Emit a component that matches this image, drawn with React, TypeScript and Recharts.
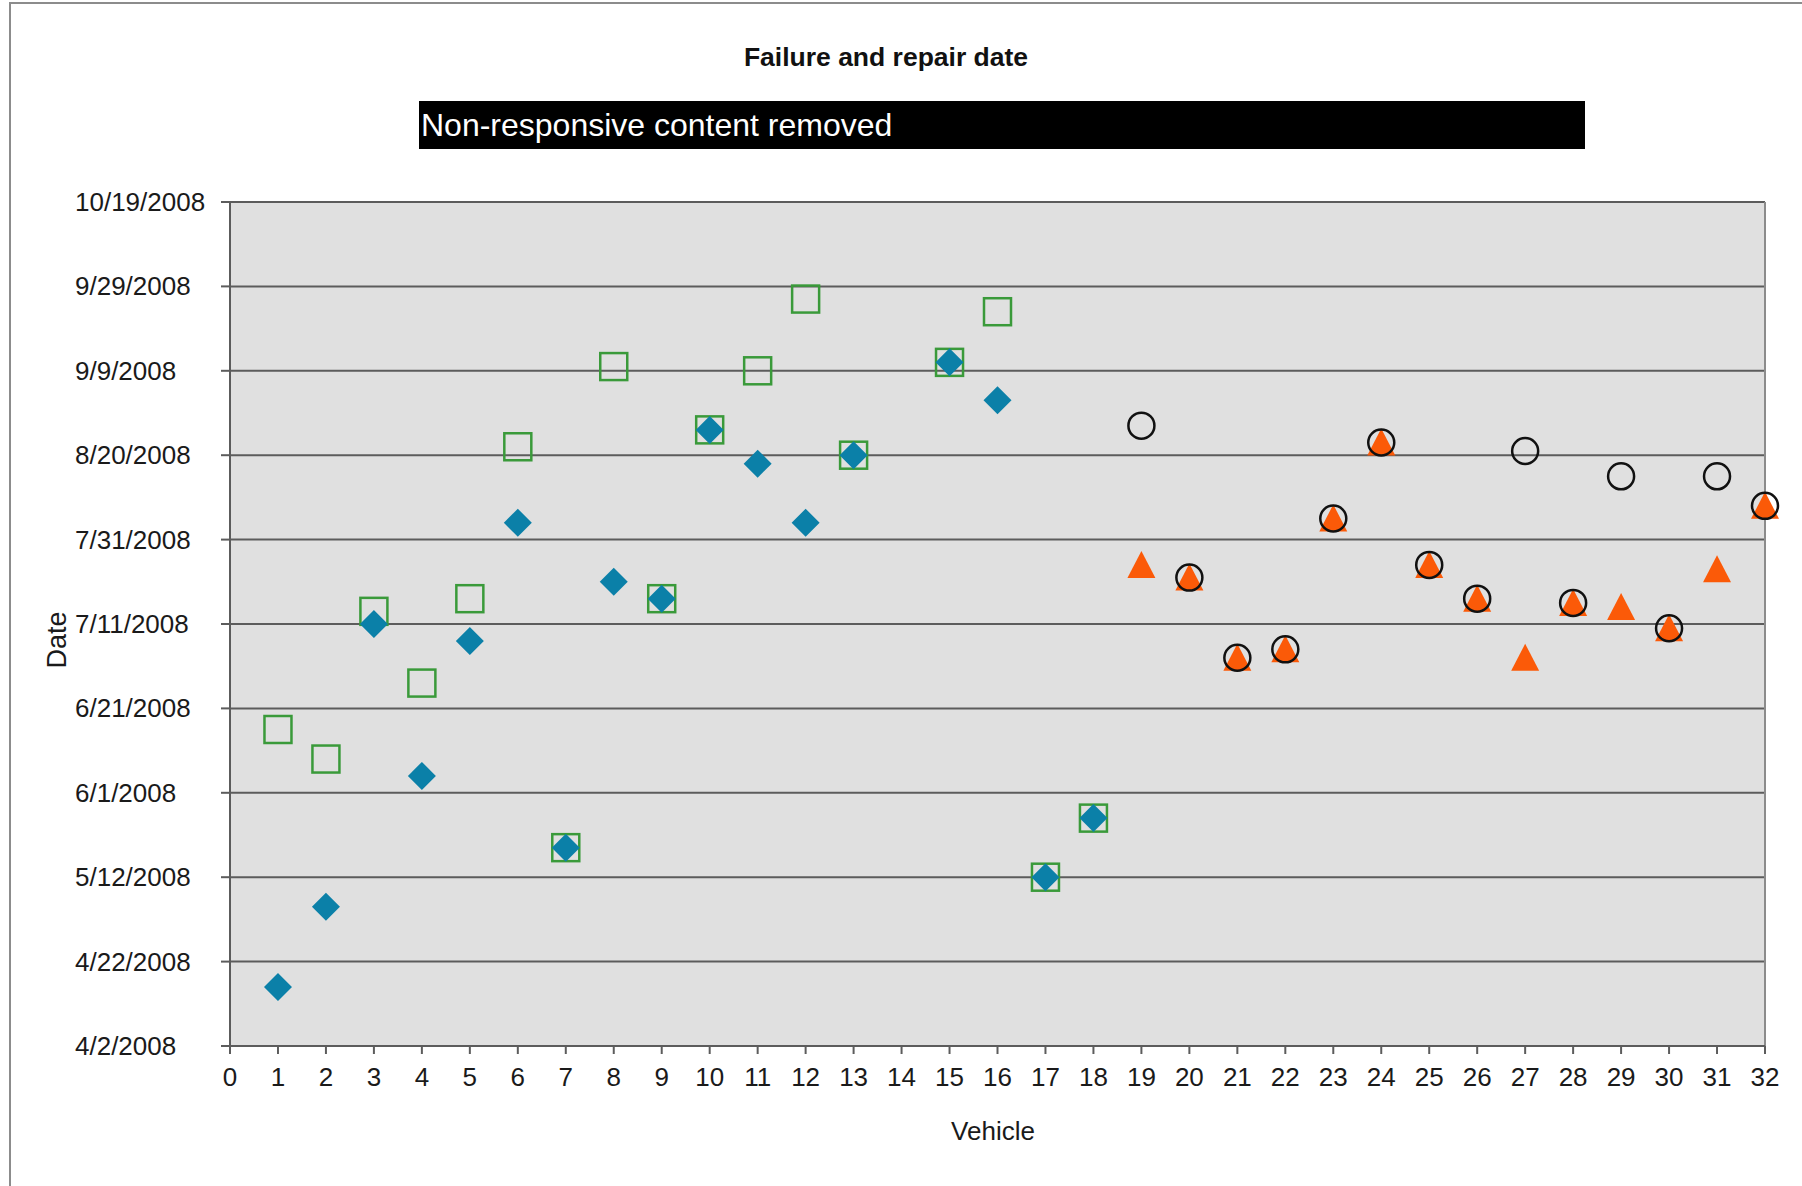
import React from 'react';
import { ScatterChart, Scatter, XAxis, YAxis, CartesianGrid, ReferenceLine } from 'recharts';

// Vehicles 1-18 (no record for 14): blue = failure, green = repair
const firstVehicles = [1, 2, 3, 4, 5, 6, 7, 8, 9, 10, 11, 12, 13, 15, 16, 17, 18];
const firstFailureDates = [
  '2008-04-16', '2008-05-05', '2008-07-11', '2008-06-05', '2008-07-07', '2008-08-04',
  '2008-05-19', '2008-07-21', '2008-07-17', '2008-08-26', '2008-08-18', '2008-08-04',
  '2008-08-20', '2008-09-11', '2008-09-02', '2008-05-12', '2008-05-26',
];
const firstRepairDates = [
  '2008-06-16', '2008-06-09', '2008-07-14', '2008-06-27', '2008-07-17', '2008-08-22',
  '2008-05-19', '2008-09-10', '2008-07-17', '2008-08-26', '2008-09-09', '2008-09-26',
  '2008-08-20', '2008-09-11', '2008-09-23', '2008-05-12', '2008-05-26',
];

// Vehicles 19-32: orange = failure, black circle = repair
const secondVehicles = [19, 20, 21, 22, 23, 24, 25, 26, 27, 28, 29, 30, 31, 32];
const secondFailureDates = [
  '2008-07-25', '2008-07-22', '2008-07-03', '2008-07-05', '2008-08-05', '2008-08-23', '2008-07-25',
  '2008-07-17', '2008-07-03', '2008-07-16', '2008-07-15', '2008-07-10', '2008-07-24', '2008-08-08',
];
const secondRepairDates = [
  '2008-08-27', '2008-07-22', '2008-07-03', '2008-07-05', '2008-08-05', '2008-08-23', '2008-07-25',
  '2008-07-17', '2008-08-21', '2008-07-16', '2008-08-15', '2008-07-10', '2008-08-15', '2008-08-08',
];

const dateTickLabels = [
  '2008-04-02', '2008-04-22', '2008-05-12', '2008-06-01', '2008-06-21', '2008-07-11',
  '2008-07-31', '2008-08-20', '2008-09-09', '2008-09-29', '2008-10-19',
];
const vehicleTicks = Array.from({ length: 33 }, (_, i) => i);

const toTime = (s: string) => Date.parse(s);
const fmtDate = (t: number) => {
  const d = new Date(t);
  return `${d.getUTCMonth() + 1}/${d.getUTCDate()}/${d.getUTCFullYear()}`;
};

const toPoints = (vehicles: number[], dates: string[]) =>
  vehicles.map((v, i) => ({ vehicle: v, date: toTime(dates[i]) }));

const dateTicks = dateTickLabels.map(toTime);

const FONT = '"Liberation Sans", Arial, Helvetica, sans-serif';
const GRID = '#5c5c5c';

const Diamond = ({ cx, cy }: any) => (
  <polygon points={`${cx},${cy - 14} ${cx + 14},${cy} ${cx},${cy + 14} ${cx - 14},${cy}`} fill="#0b80a8" />
);
const Square = ({ cx, cy }: any) => (
  <rect x={cx - 13.5} y={cy - 13.5} width={27} height={27} fill="none" stroke="#3a9a3a" strokeWidth={2.5} />
);
const Triangle = ({ cx, cy }: any) => (
  <polygon points={`${cx},${cy - 14} ${cx + 14},${cy + 13} ${cx - 14},${cy + 13}`} fill="#fb5a08" />
);
const Ring = ({ cx, cy }: any) => (
  <circle cx={cx} cy={cy} r={13} fill="none" stroke="#111" strokeWidth={2.5} />
);

const DateTick = ({ y, payload }: any) => (
  <text x={75} y={y} textAnchor="start" dominantBaseline="central" fontSize={26} fill="#1a1a1a" fontFamily={FONT}>
    {fmtDate(payload.value)}
  </text>
);

export default function App() {
  return (
    <div style={{ position: 'absolute', left: 0, top: 0, width: 1802, height: 1186, background: '#fff', fontFamily: FONT, overflow: 'hidden' }}>
      <div style={{ position: 'absolute', left: 9, top: 2, width: 1900, height: 1300, borderLeft: '2px solid #8c8c8c', borderTop: '2px solid #8c8c8c' }} />
      <ScatterChart width={1802} height={1186} margin={{ top: 202, right: 37, bottom: 0, left: 0 }}>
        <CartesianGrid vertical={false} fill="#e0e0e0" stroke={GRID} strokeWidth={2} />
        <XAxis
          type="number"
          dataKey="vehicle"
          domain={[0, 32]}
          ticks={vehicleTicks}
          interval={0}
          height={140}
          stroke={GRID}
          strokeWidth={2}
          tickSize={8}
          tickMargin={14}
          tick={{ fontSize: 26, fill: '#1a1a1a', fontFamily: FONT }}
        />
        <YAxis
          type="number"
          dataKey="date"
          domain={[dateTicks[0], dateTicks[dateTicks.length - 1]]}
          ticks={dateTicks}
          interval={0}
          width={230}
          stroke={GRID}
          strokeWidth={2}
          tickSize={9}
          tick={<DateTick />}
        />
        <ReferenceLine x={32} stroke="#8c8c8c" strokeWidth={2} />
        <Scatter data={toPoints(firstVehicles, firstRepairDates)} shape={<Square />} isAnimationActive={false} />
        <Scatter data={toPoints(firstVehicles, firstFailureDates)} shape={<Diamond />} isAnimationActive={false} />
        <Scatter data={toPoints(secondVehicles, secondFailureDates)} shape={<Triangle />} isAnimationActive={false} />
        <Scatter data={toPoints(secondVehicles, secondRepairDates)} shape={<Ring />} isAnimationActive={false} />
      </ScatterChart>
      <div style={{ position: 'absolute', left: 586, width: 600, top: 40, textAlign: 'center', fontSize: 26.5, fontWeight: 'bold', color: '#111', lineHeight: '34px' }}>
        Failure and repair date
      </div>
      <div style={{ position: 'absolute', left: 419, top: 101, width: 1166, height: 48, background: '#000', color: '#fff', fontSize: 32, lineHeight: '48px', paddingLeft: 2, boxSizing: 'border-box' }}>
        Non-responsive content removed
      </div>
      <div style={{ position: 'absolute', left: 57, top: 640, transform: 'translate(-50%, -50%) rotate(-90deg)', fontSize: 27, color: '#1a1a1a', whiteSpace: 'nowrap' }}>
        Date
      </div>
      <div style={{ position: 'absolute', left: 993, top: 1131, transform: 'translate(-50%, -50%)', fontSize: 26, color: '#1a1a1a' }}>
        Vehicle
      </div>
    </div>
  );
}
